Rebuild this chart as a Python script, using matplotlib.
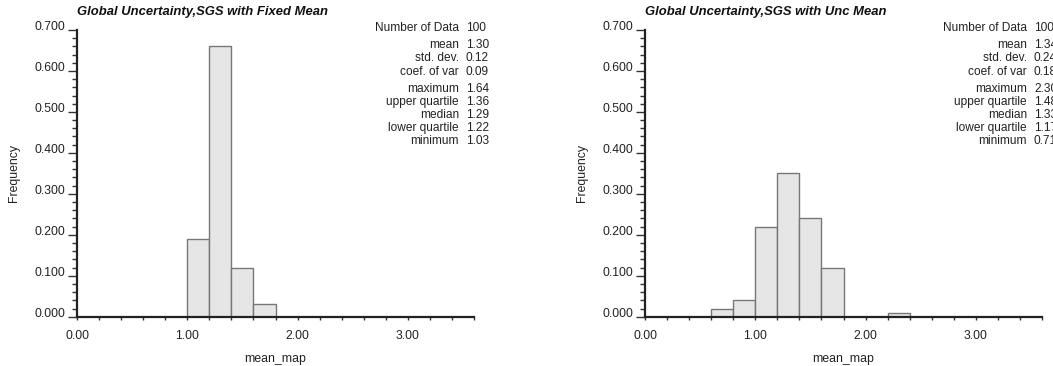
import numpy as np
import matplotlib
matplotlib.use("Agg")
from matplotlib import pyplot as plt
from matplotlib.ticker import MultipleLocator, FormatStrFormatter

plt.rcParams['font.family'] = ['Liberation Sans', 'DejaVu Sans']

# histogram bins (left edge) and frequencies, bin width 0.2
bins_fixed = [1.0, 1.2, 1.4, 1.6]
freq_fixed = [0.19, 0.66, 0.12, 0.03]
bins_unc = [0.6, 0.8, 1.0, 1.2, 1.4, 1.6, 2.2]
freq_unc = [0.02, 0.04, 0.22, 0.35, 0.24, 0.12, 0.01]
bin_width = 0.2

titles = ["Global Uncertainty,SGS with Fixed Mean", "Global Uncertainty,SGS with Unc Mean"]
stat_names = ["Number of Data", "mean", "std. dev.", "coef. of var",
              "maximum", "upper quartile", "median", "lower quartile", "minimum"]
stats_fixed = ["100", "1.30", "0.12", "0.09", "1.64", "1.36", "1.29", "1.22", "1.03"]
stats_unc = ["100", "1.34", "0.24", "0.18", "2.30", "1.48", "1.33", "1.17", "0.71"]

W, H = 1053, 366
fig = plt.figure(figsize=(W / 100, H / 100), dpi=100)

row_y = [28.3, 45, 58.3, 71.7, 89.3, 101.7, 115, 127.7, 141]

def draw(left_px, bins, freq, title, stats):
    ax = fig.add_axes([left_px / W, 1 - 316.7 / H, 397 / W, 286.7 / H])
    ax.bar(bins, freq, width=bin_width, align='edge', color='#e6e6e6',
           edgecolor='#777777', linewidth=1.0, zorder=2)
    ax.set_xlim(0, 3.6)
    ax.set_ylim(0, 0.7)
    for s in ['top', 'right']:
        ax.spines[s].set_visible(False)
    for s in ['left', 'bottom']:
        ax.spines[s].set_linewidth(1.6)
        ax.spines[s].set_color('#222222')
        ax.spines[s].set_zorder(3)
    ax.xaxis.set_major_locator(MultipleLocator(1.0))
    ax.xaxis.set_minor_locator(MultipleLocator(0.2))
    ax.xaxis.set_major_formatter(FormatStrFormatter('%.2f'))
    ax.yaxis.set_major_locator(MultipleLocator(0.1))
    ax.yaxis.set_minor_locator(MultipleLocator(0.02))
    ax.yaxis.set_major_formatter(FormatStrFormatter('%.3f'))
    ax.tick_params(axis='x', which='both', direction='out', length=2.5, width=1,
                   color='#333333', labelsize=8.8, pad=7, labelcolor='#222222')
    ax.tick_params(axis='y', which='major', direction='out', length=6.5, width=1,
                   color='#333333', labelsize=8.8, pad=2, labelcolor='#222222')
    ax.tick_params(axis='y', which='minor', direction='out', length=3.6, width=1,
                   color='#333333')
    for lab in ax.get_yticklabels():
        lab.set_verticalalignment('baseline')
    ax.set_ylabel("Frequency", fontsize=8.8, color='#222222')
    ax.set_xlabel("mean_map", fontsize=8.8, color='#222222', labelpad=8)
    ax.yaxis.set_label_coords(-0.143, 0.5)
    ax.set_title(title, loc='left', fontsize=9.4, fontweight='bold', fontstyle='italic',
                 color='#111111', pad=11)
    for name, val, y in zip(stat_names, stats, row_y):
        fig.text((left_px + 382) / W, 1 - y / H, name, ha='right', va='center',
                 fontsize=8.6, color='#222222')
        fig.text((left_px + 389) / W, 1 - y / H, val, ha='left', va='center',
                 fontsize=8.6, color='#222222')
    return ax

draw(77, bins_fixed, freq_fixed, titles[0], stats_fixed)
draw(645, bins_unc, freq_unc, titles[1], stats_unc)

plt.savefig("out.png", dpi=100)
